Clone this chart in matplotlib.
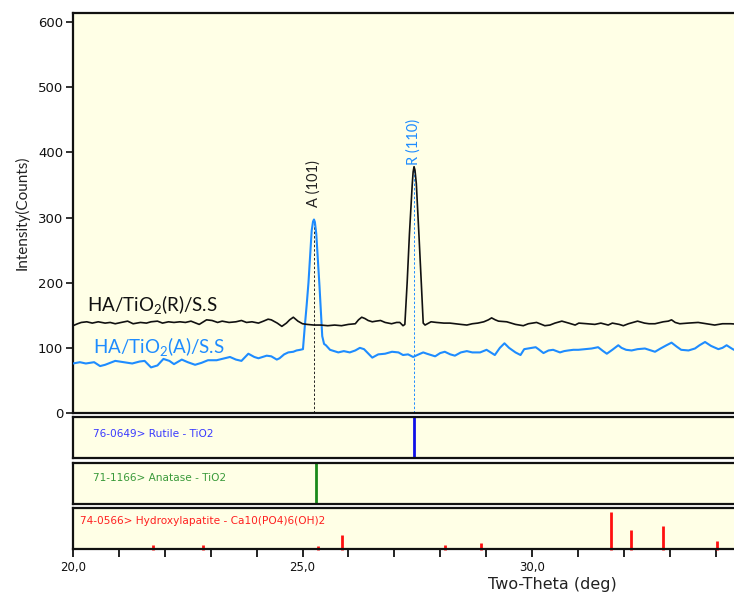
import matplotlib
matplotlib.use("Agg")
import matplotlib.pyplot as plt

# ---------------- data ----------------
rutile_x = [20.00, 20.10, 20.18, 20.30, 20.42, 20.55, 20.70, 20.81, 20.92, 21.05, 21.19,
            21.31, 21.47, 21.60, 21.70, 21.84, 21.95, 22.08, 22.20, 22.33, 22.45, 22.57,
            22.75, 22.91, 23.03, 23.15, 23.25, 23.40, 23.55, 23.67, 23.78, 23.90, 24.04,
            24.15, 24.25, 24.32, 24.45, 24.55, 24.65, 24.72, 24.80, 24.90, 25.00, 25.10,
            25.25, 25.40, 25.55, 25.70, 25.85, 26.00, 26.15, 26.22, 26.29, 26.36, 26.43,
            26.52, 26.60, 26.70, 26.80, 26.94, 27.05, 27.12, 27.19, 27.23, 27.28, 27.33,
            27.39, 27.41, 27.43, 27.45, 27.48, 27.54, 27.59, 27.63, 27.67, 27.80, 27.92,
            28.08, 28.21, 28.33, 28.45, 28.58, 28.70, 28.82, 28.95, 29.05, 29.12, 29.20,
            29.27, 29.45, 29.64, 29.81, 29.92, 30.01, 30.10, 30.28, 30.39, 30.50, 30.65,
            30.80, 30.94, 31.02, 31.20, 31.37, 31.50, 31.66, 31.75, 31.90, 31.99, 32.10,
            32.30, 32.45, 32.55, 32.68, 32.86, 32.97, 33.04, 33.12, 33.22, 33.40, 33.62,
            33.80, 33.98, 34.15, 34.33, 34.55]
rutile_y = [134, 137, 139, 140, 138, 140, 138, 139, 137, 139, 141,
            137, 139, 138, 140, 141, 138, 140, 139, 140, 139, 141,
            136, 143, 142, 139, 141, 139, 140, 142, 139, 140, 138,
            141, 144, 143, 138, 133, 138, 143, 147, 141, 137, 136,
            135, 135, 134, 135, 134, 136, 137, 143, 147, 145, 142,
            140, 141, 142, 139, 137, 139, 139, 134, 136, 200, 275,
            350, 370, 378, 373, 352, 269, 197, 138, 135, 140, 139,
            138, 138, 137, 136, 135, 137, 138, 140, 143, 146, 143,
            141, 140, 136, 134, 137, 138, 139, 134, 135, 138, 141,
            138, 135, 138, 137, 136, 138, 135, 138, 136, 134, 137,
            141, 138, 137, 137, 140, 141, 143, 139, 137, 138, 139,
            137, 135, 137, 137, 136]

anatase_x = [20.00, 20.15, 20.28, 20.46, 20.59, 20.70, 20.92, 21.10, 21.29, 21.45, 21.56,
             21.70, 21.84, 21.97, 22.10, 22.20, 22.37, 22.50, 22.66, 22.80, 22.94, 23.13,
             23.30, 23.42, 23.55, 23.67, 23.82, 23.95, 24.04, 24.22, 24.32, 24.44, 24.50,
             24.60, 24.69, 24.80, 24.87, 24.95, 25.01, 25.05, 25.09, 25.13, 25.17, 25.20,
             25.23, 25.25, 25.27, 25.30, 25.33, 25.37, 25.40, 25.43, 25.47, 25.51, 25.60,
             25.69, 25.78, 25.90, 26.03, 26.15, 26.25, 26.34, 26.45, 26.52, 26.65, 26.80,
             26.95, 27.09, 27.19, 27.30, 27.41, 27.50, 27.63, 27.71, 27.89, 28.00, 28.10,
             28.22, 28.32, 28.45, 28.58, 28.70, 28.87, 29.01, 29.10, 29.19, 29.30, 29.40,
             29.50, 29.64, 29.75, 29.83, 29.99, 30.08, 30.14, 30.25, 30.36, 30.46, 30.61,
             30.70, 30.79, 30.90, 31.01, 31.15, 31.30, 31.44, 31.55, 31.63, 31.75, 31.88,
             31.95, 32.05, 32.17, 32.30, 32.46, 32.55, 32.68, 32.80, 32.93, 33.04, 33.15,
             33.25, 33.41, 33.55, 33.65, 33.77, 33.90, 34.06, 34.15, 34.24, 34.35, 34.40,
             34.55]
anatase_y = [76, 78, 76, 78, 72, 74, 80, 78, 76, 79, 80,
             70, 73, 83, 80, 75, 82, 78, 74, 77, 81, 81,
             84, 86, 82, 80, 91, 86, 84, 88, 87, 82, 84,
             90, 93, 94, 96, 97, 98, 133, 165, 200, 245, 280,
             294, 297, 293, 275, 240, 195, 155, 118, 106, 104, 97,
             95, 93, 95, 93, 96, 100, 98, 90, 85, 90, 91,
             94, 93, 89, 90, 86, 89, 93, 91, 87, 92, 94,
             90, 88, 93, 95, 93, 93, 97, 93, 89, 100, 107,
             100, 93, 89, 98, 100, 101, 98, 92, 96, 97, 93,
             95, 96, 97, 97, 98, 99, 101, 95, 91, 97, 104,
             100, 97, 96, 98, 99, 97, 94, 99, 104, 108, 102,
             97, 96, 99, 104, 109, 103, 98, 100, 104, 99, 97,
             99]

peak_a_pos, peak_a_top = 25.25, 296
peak_r_pos, peak_r_top = 27.43, 375

ref_rutile = [27.43]
ref_anatase = [25.29]
ha_pos = [21.74, 22.83, 25.33, 25.87, 28.10, 28.89, 31.72, 32.16, 32.86, 34.02]
ha_int = [11, 11, 8, 38, 11, 16, 100, 51, 62, 22]

yticks = [0, 100, 200, 300, 400, 500, 600]
xmajor = [20, 25, 30]
xmajor_labels = ["20,0", "25,0", "30,0"]
xminor = [21, 22, 23, 24, 26, 27, 28, 29, 31, 32, 33, 34]

# ---------------- style ----------------
W, H = 734, 595
BG = "#ffffe6"
BLUE = "#1e8cff"
fig = plt.figure(figsize=(W / 100, H / 100), dpi=100)

def rect(x0, y0, x1, y1):
    return [x0 / W, 1 - y1 / H, (x1 - x0) / W, (y1 - y0) / H]

XL, XR = 73, 740
xlim = (20, 20 + (XR - XL) / 45.9)

ax = fig.add_axes(rect(XL, 13, XR, 413))
ax1 = fig.add_axes(rect(XL, 417, XR, 458))
ax2 = fig.add_axes(rect(XL, 463, XR, 504))
ax3 = fig.add_axes(rect(XL, 508, XR, 549))

for a in (ax, ax1, ax2, ax3):
    a.set_facecolor(BG)
    a.set_xlim(*xlim)
    for s in a.spines.values():
        s.set_linewidth(1.6)
        s.set_color("#111111")
    a.tick_params(axis="x", bottom=False, labelbottom=False)
    a.tick_params(axis="y", left=False, labelleft=False)

# main panel
ax.set_ylim(0, 614)
ax.plot(anatase_x, anatase_y, color=BLUE, lw=1.5, zorder=3)
ax.plot(rutile_x, rutile_y, color="#111111", lw=1.2, zorder=4)
ax.vlines(peak_a_pos, 0, peak_a_top, colors="#222222", lw=0.7, linestyles=(0, (2.5, 2)), zorder=2)
ax.vlines(peak_r_pos, 0, peak_r_top, colors=BLUE, lw=0.7, linestyles=(0, (2.5, 2)), zorder=2)
ax.set_yticks(yticks)
ax.tick_params(axis="y", left=True, labelleft=True, direction="out", length=5,
               width=1.2, labelsize=9.5, pad=2, colors="#111111")
ax.set_ylabel("Intensity(Counts)", family="Lato", fontsize=11, color="#222222", labelpad=6)

ax.text(peak_a_pos, 316, "A (101)", rotation=90, ha="center", va="bottom",
        family="Lato", fontsize=10.5, color="#222222")
ax.text(peak_r_pos, 381, "R (110)", rotation=90, ha="center", va="bottom",
        family="Lato", fontsize=10.5, color=BLUE)
ax.text(20.3, 166, "HA/TiO$_\\mathregular{2}$(R)/S.S", family="Lato", fontsize=13.5,
        color="#111111", va="center", ha="left")
ax.text(20.43, 101, "HA/TiO$_\\mathregular{2}$(A)/S.S", family="Lato", fontsize=13.5,
        color=BLUE, va="center", ha="left")

# reference panels
for a in (ax1, ax2, ax3):
    a.set_ylim(0, 110)

ax1.vlines(ref_rutile, 0, 110, colors="#1010e8", lw=2)
ax1.text(20.43, 65, "76-0649> Rutile - TiO2", color="#3a3aff", fontsize=7.6, va="center")

ax2.vlines(ref_anatase, 0, 110, colors="#1a8a1a", lw=2)
ax2.text(20.43, 70, "71-1166> Anatase - TiO2", color="#3a9a3a", fontsize=7.6, va="center")

ax3.vlines(ha_pos, -4, ha_int, colors="#ff1010", lw=2, clip_on=False)
ax3.text(20.15, 75, "74-0566> Hydroxylapatite - Ca10(PO4)6(OH)2", color="#ff2020",
         fontsize=7.6, va="center")

ax3.set_xticks(xmajor)
ax3.set_xticklabels(xmajor_labels)
ax3.set_xticks(xminor, minor=True)
ax3.tick_params(axis="x", which="both", bottom=True, labelbottom=True, direction="out",
                length=6, width=1.3, labelsize=8.5, pad=3, colors="#111111")

fig.text(552 / W, 1 - 585 / H, "Two-Theta (deg)", ha="center", va="center",
         fontsize=11.5, color="#222222")

fig.savefig("out.png", dpi=100, facecolor="white")
